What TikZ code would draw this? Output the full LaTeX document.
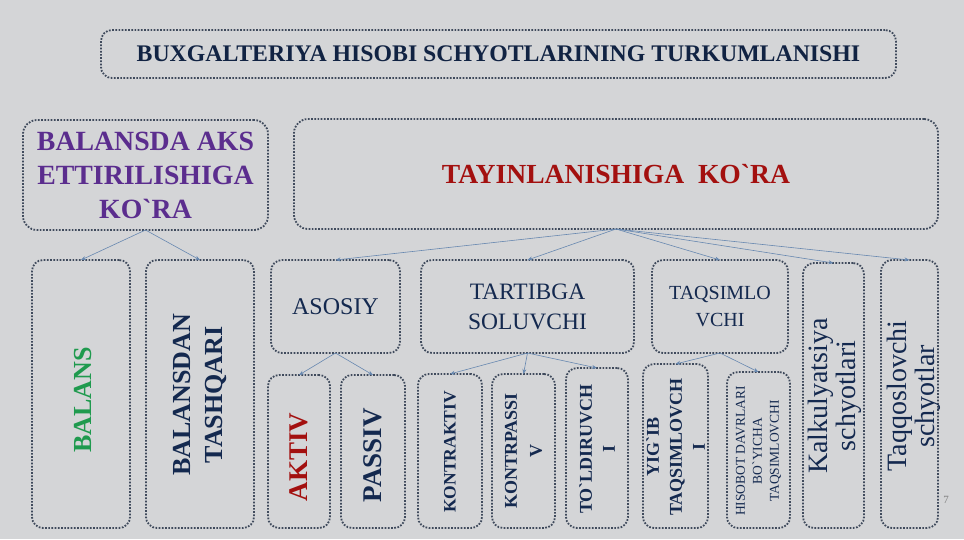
\documentclass[tikz,border=0pt]{standalone}
\usepackage{fontspec}
\setmainfont{Liberation Serif}[Ligatures=TeXOff]
\usepackage{tikz}
\usetikzlibrary{arrows.meta}
\definecolor{slide}{HTML}{D4D5D7}
\definecolor{frame}{HTML}{3F4A5C}
\definecolor{navy}{HTML}{14294F}
\definecolor{plum}{HTML}{5B2D8E}
\definecolor{wine}{HTML}{A3100F}
\definecolor{leaf}{HTML}{1F9A4E}
\definecolor{link}{HTML}{6788B0}

\begin{document}
\begin{tikzpicture}[x=1pt, y=-1pt,
	box/.style={rectangle, draw=frame, line width=1.8pt, dash pattern=on 1.7pt off 1.5pt, rounded corners=11pt, inner sep=0pt, outer sep=0pt, text=navy, align=center},
	vtext/.style={rotate=90, align=center, text=navy, inner sep=0pt},
	conn/.style={draw=link, line width=0.6pt, -{Stealth[length=5pt, width=4pt]}}]
	\fill[slide] (0,0) rectangle (964,539);
	\useasboundingbox (0,0) rectangle (964,539);
	
	% upper level
	\node[box, minimum width=795, minimum height=48, text=navy!85!black, font=\fontsize{23.8}{26}\selectfont\bfseries] at (498.5,54) (title) {BUXGALTERIYA HISOBI SCHYOTLARINING TURKUMLANISHI};
	\node[box, rounded corners=14pt, minimum width=245, minimum height=110, text=plum, font=\fontsize{27.8}{34}\selectfont\bfseries] at (145.5,175) (balansda) {BALANSDA AKS\\ETTIRILISHIGA\\KO`RA};
	\node[box, rounded corners=14pt, minimum width=644, minimum height=110, text=wine, font=\fontsize{27.6}{30}\selectfont\bfseries] at (616,174) (tayin) {TAYINLANISHIGA\ \ KO`RA};
	
	% second level
	\node[box, minimum width=98, minimum height=268] at (81,394) (balans) {};
	\node[vtext, text=leaf, font=\fontsize{26}{32}\selectfont\bfseries] at (83,400) (balanst) {BALANS};
	\node[box, minimum width=108, minimum height=268] at (200,394) (tashqari) {};
	\node[vtext, font=\fontsize{26}{32}\selectfont\bfseries] at (200,395) (tashqarit) {BALANSDAN\\TASHQARI};
	\node[box, minimum width=129, minimum height=93, font=\fontsize{24}{28}\selectfont] at (335.5,306.5) (asosiy) {ASOSIY};
	\node[box, minimum width=213, minimum height=93, font=\fontsize{23.5}{30}\selectfont] at (527.5,306.5) (tartib) {TARTIBGA\\SOLUVCHI};
	\node[box, minimum width=136, minimum height=93, font=\fontsize{20}{27}\selectfont] at (720,306.5) (taqsim) {TAQSIMLO\\VCHI};
	\node[box, minimum width=61, minimum height=265] at (833.5,395.5) (kalkul) {};
	\node[vtext, font=\fontsize{28}{28}\selectfont] at (835,396) (kalkult) {Kalkulyatsiya\\schyotlari};
	\node[box, minimum width=57, minimum height=268] at (909.5,394) (taqqos) {};
	\node[vtext, font=\fontsize{28}{28}\selectfont] at (914,396) (taqqost) {Taqqoslovchi\\schyotlar};
	
	% third level
	\node[box, minimum width=62, minimum height=153] at (299,451.5) (aktiv) {};
	\node[vtext, text=wine, font=\fontsize{27}{30}\selectfont\bfseries] at (299,457) (aktivt) {AKTIV};
	\node[box, minimum width=64, minimum height=153] at (373,451.5) (passiv) {};
	\node[vtext, font=\fontsize{27}{30}\selectfont\bfseries] at (373,455) (passivt) {PASSIV};
	\node[box, minimum width=64, minimum height=154] at (450,451) (kaktiv) {};
	\node[vtext, font=\fontsize{17.5}{24}\selectfont\bfseries] at (450,452) (kaktivt) {KONTRAKTIV};
	\node[box, minimum width=63, minimum height=154] at (523.5,451) (kpassiv) {};
	\node[vtext, font=\fontsize{18}{25}\selectfont\bfseries] at (523.5,451) (kpassivt) {KONTRPASSI\\V};
	\node[box, minimum width=62, minimum height=160] at (597,448) (toldir) {};
	\node[vtext, font=\fontsize{18}{23}\selectfont\bfseries] at (597,449) (toldirt) {TO`LDIRUVCH\\I};
	\node[box, minimum width=65, minimum height=164] at (675.5,446) (yigib) {};
	\node[vtext, font=\fontsize{18}{23}\selectfont\bfseries] at (675.5,447) (yigibt) {YIG`IB\\TAQSIMLOVCH\\I};
	\node[box, minimum width=63, minimum height=156] at (758.5,450) (hisobot) {};
	\node[vtext, font=\fontsize{13.5}{17}\selectfont] at (758.5,451) (hisobott) {HISOBOT DAVRLARI\\BO`YICHA\\TAQSIMLOVCHI};
	
	\node[text=gray, font=\fontsize{11}{12}\selectfont] at (946,500) (pagenum) {7};
	
	% connectors
	\draw[conn] (balansda.south) -- (balans.north);
	\draw[conn] (balansda.south) -- (tashqari.north);
	\foreach \b in {asosiy, tartib, taqsim, kalkul, taqqos}
		\draw[conn] (tayin.south) -- (\b.north);
	\draw[conn] (asosiy.south) -- (aktiv.north);
	\draw[conn] (asosiy.south) -- (passiv.north);
	\foreach \b in {kaktiv, kpassiv, toldir}
		\draw[conn] (tartib.south) -- (\b.north);
	\draw[conn] (taqsim.south) -- (yigib.north);
	\draw[conn] (taqsim.south) -- (hisobot.north);
\end{tikzpicture}
\end{document}
